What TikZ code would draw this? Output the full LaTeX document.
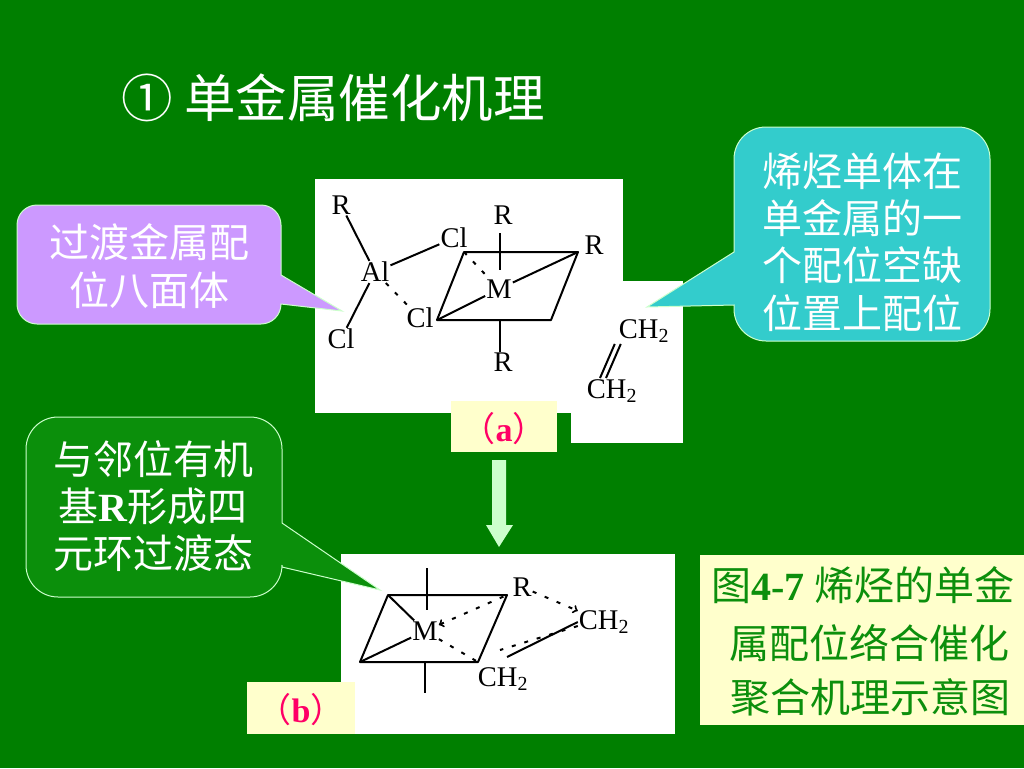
\documentclass[tikz,border=0pt]{standalone}
\usepackage{fontspec}
\setmainfont{Noto Sans CJK SC}
\newfontfamily\latfont{Liberation Serif}
\usetikzlibrary{positioning,arrows,calc,arrows.meta}
\definecolor{slidegreen}{HTML}{007F00}
\definecolor{paleyellow}{HTML}{FFFFCC}
\definecolor{hotpink}{HTML}{FF0066}
\definecolor{figgreen}{HTML}{0C8F0C}
\definecolor{bubblepurple}{HTML}{CC99FF}
\definecolor{bubbleteal}{HTML}{33CCCC}
\definecolor{bubblegreen}{HTML}{0B8F0B}
\definecolor{paleedge}{HTML}{CCFFCC}
\newcommand{\zhsize}{\fontsize{40}{47.3}\selectfont}
\newcommand{\latbf}[1]{{\latfont\bfseries #1}}
\tikzset{
	whitepic/.style={fill=white},
	tagbox/.style={fill=paleyellow},
	bubble/.style={draw=paleedge,line width=1pt},
	bubbletext/.style={text=white,align=center,font=\zhsize,inner sep=0pt},
	figline/.style={text=figgreen,font=\zhsize,inner sep=0pt},
	tagtext/.style={text=hotpink,font=\fontsize{34}{40}\selectfont,inner sep=0pt},
	chem/.style={font=\fontsize{28.5}{32}\selectfont\latfont,text=black,inner sep=1pt},
	bond/.style={black,line width=2pt},
	weakbond/.style={black,line width=2pt,dash pattern=on 4pt off 9pt}
}
\begin{document}
\begin{tikzpicture}[x=1pt,y=-1pt]
	\fill[slidegreen] (0,0) rectangle (1024,768);
	\useasboundingbox (0,0) rectangle (1024,768);
	
	\fill[whitepic] (315,179) rectangle (623,413);
	\fill[whitepic] (571,281) rectangle (683,443);
	\fill[whitepic] (341,554) rectangle (675,734);
	\fill[tagbox] (451,401) rectangle (557,452);
	\fill[tagbox] (247,682) rectangle (355,734);
	\fill[tagbox] (700,555) rectangle (1024,725);
	
	\node[text=white,font=\fontsize{51.5}{60}\selectfont,anchor=west,inner sep=0pt] (title) at (121,98) {① 单金属催化机理};
	
	% callouts
	\path[bubble,fill=bubblepurple] (150,205) [rounded corners=20pt] -- (281,205) [sharp corners] -- (281,275) -- (342,311) -- (281,304) [rounded corners=20pt] -- (281,324) -- (17,324) -- (17,205) -- cycle;
	\path[bubble,fill=bubbleteal] (860,127) [rounded corners=32pt] -- (990,127) -- (990,341) -- (734,341) [sharp corners] -- (734,305) -- (647,307) -- (734,252) [rounded corners=32pt] -- (734,127) -- cycle;
	\path[bubble,fill=bubblegreen] (150,417) [rounded corners=32pt] -- (282,417) [sharp corners] -- (282,523) -- (380,590) -- (282,567) [rounded corners=32pt] -- (282,597) -- (26,597) -- (26,417) -- cycle;
	\node[bubbletext] (octa) at (149,266) {过渡金属配\\位八面体};
	\node[bubbletext] (vacant) at (862,242) {烯烃单体在\\单金属的一\\个配位空缺\\位置上配位};
	\node[bubbletext] (ring) at (153,506) {与邻位有机\\基\latbf{R}形成四\\元环过渡态};
	
	\node[tagtext] (taga) at (504,429) {（\latbf{a}）};
	\node[tagtext] (tagb) at (301,710) {（\latbf{b}）};
	\node[figline] (figa) at (863,585) {图\latbf{4-7 }烯烃的单金};
	\node[figline] (figb) at (869,643) {属配位络合催化};
	\node[figline] (figc) at (870,697) {聚合机理示意图};
	
	\shade[left color=paleedge,middle color=white!85!paleedge,right color=paleedge] (492,460) -- (506,460) -- (506,525) -- (513,525) -- (499,547) -- (486,525) -- (492,525) -- cycle;
	
	% structure (a)
	\node[chem] (ra) at (341,205) {R};
	\node[chem] (al) at (375,272) {Al};
	\node[chem] (cla) at (454,238) {Cl};
	\node[chem] (clb) at (420,318) {Cl};
	\node[chem] (clc) at (341,339) {Cl};
	\node[chem] (rb) at (503,215) {R};
	\node[chem] (rc) at (594,245) {R};
	\node[chem] (rd) at (503,362) {R};
	\node[chem] (ma) at (499,289) {M};
	\node[chem] (cha) at (644,331) {CH\textsubscript{2}};
	\node[chem] (chb) at (612,391) {CH\textsubscript{2}};
	\coordinate (p1) at (464,252);
	\coordinate (p2) at (578,252);
	\coordinate (p3) at (551,320);
	\coordinate (p4) at (437,320);
	\coordinate (ptop) at (500,233);
	\coordinate (pbot) at (500,352);
	\coordinate (pmid) at (500,270);
	
	\draw[bond,line join=round] (p1) -- (p2) -- (p3) -- (p4) -- cycle;
	\draw[bond] (ra) -- (al);
	\draw[bond] (al) -- (cla);
	\draw[bond] (al) -- (clc);
	\draw[weakbond] (al) -- (clb);
	\draw[bond] (ptop) -- (pmid);
	\draw[bond] (pbot) -- (500,320);
	\draw[bond] (p4) -- (ma);
	\draw[bond] (p2) -- (ma);
	\draw[weakbond] (p1) -- (ma);
	\draw[bond] ([xshift=-3pt]cha.south west) -- ([xshift=-12pt]chb.north);
	\draw[bond] ([xshift=3pt]cha.south west) -- ([xshift=-6pt]chb.north);
	
	% structure (b)
	\node[chem] (re) at (522,587) {R};
	\node[chem] (mb) at (425,631) {M};
	\node[chem] (chc) at (604,622) {CH\textsubscript{2}};
	\node[chem] (chd) at (503,679) {CH\textsubscript{2}};
	\coordinate (q1) at (388,595);
	\coordinate (q2) at (507,595);
	\coordinate (q3) at (478,662);
	\coordinate (q4) at (360,662);
	
	\draw[bond,line join=round] (q1) -- (q2) -- (q3) -- (q4) -- cycle;
	\draw[bond] (427,568) -- (427,610);
	\draw[bond] (425,662) -- (425,693);
	\draw[bond] (q1) -- (mb);
	\draw[bond] (q4) -- (mb);
	\draw[weakbond,<-,>=to] (mb) -- (q2);
	\draw[weakbond] (mb) -- (q3);
	\draw[weakbond,->,>=to] (re) -- (chc);
	\draw[bond] (chc.west) -- (507,657);
	\draw[weakbond] ([yshift=-4pt]chc.west) -- (500,650);
\end{tikzpicture}
\end{document}
